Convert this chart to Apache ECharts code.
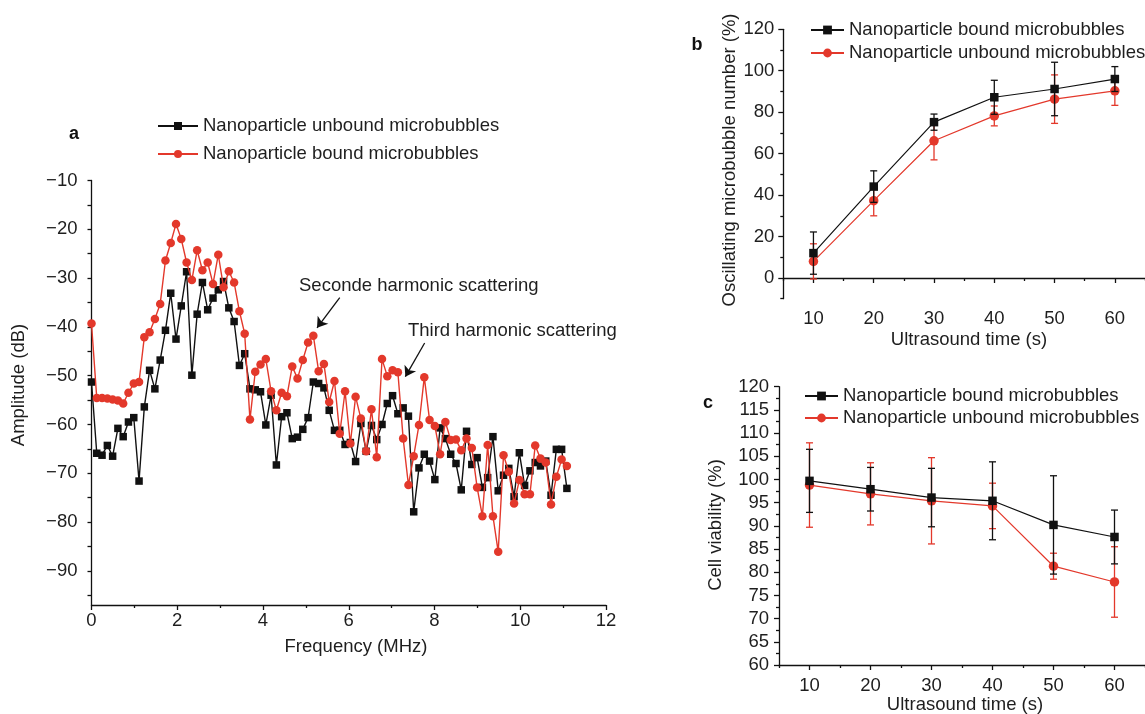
<!DOCTYPE html>
<html><head><meta charset="utf-8">
<script src="https://cdn.jsdelivr.net/npm/echarts@6/dist/echarts.min.js"></script>
<style>html,body{margin:0;padding:0;background:#fff}#chart{width:1145px;height:714px}</style>
</head><body><div id="chart"></div>
<script>
// ---------- Panel a data ----------
const freqMHz = [0, 0.123, 0.246, 0.370, 0.493, 0.616, 0.739, 0.862, 0.986, 1.109, 1.232, 1.355, 1.478, 1.602, 1.725, 1.848, 1.971, 2.094, 2.218, 2.341, 2.464, 2.587, 2.710, 2.834, 2.957, 3.080, 3.203, 3.326, 3.450, 3.573, 3.696, 3.819, 3.942, 4.066, 4.189, 4.312, 4.435, 4.558, 4.682, 4.805, 4.928, 5.051, 5.174, 5.298, 5.421, 5.544, 5.667, 5.790, 5.914, 6.037, 6.160, 6.283, 6.406, 6.530, 6.653, 6.776, 6.899, 7.022, 7.146, 7.269, 7.392, 7.515, 7.638, 7.762, 7.885, 8.008, 8.131, 8.254, 8.378, 8.501, 8.624, 8.747, 8.870, 8.994, 9.117, 9.240, 9.363, 9.486, 9.610, 9.733, 9.856, 9.979, 10.102, 10.226, 10.349, 10.472, 10.595, 10.718, 10.842, 10.965, 11.088];
const ampUnbound = [-51.3, -65.9, -66.3, -64.3, -66.5, -60.8, -62.5, -59.5, -58.6, -71.6, -56.4, -48.9, -52.7, -46.8, -40.7, -33.1, -42.5, -35.7, -28.7, -49.9, -37.4, -30.9, -36.5, -34.1, -32.4, -30.7, -36.1, -38.9, -47.9, -45.5, -52.7, -52.9, -53.3, -60.1, -54.0, -68.3, -58.4, -57.6, -62.9, -62.6, -61.0, -58.6, -51.3, -51.6, -52.5, -57.1, -61.2, -61.2, -64.1, -63.7, -67.6, -59.8, -65.5, -60.2, -63.1, -60.0, -55.7, -54.1, -57.8, -56.6, -58.3, -77.9, -68.9, -66.1, -67.5, -71.3, -60.7, -62.9, -66.1, -68.0, -73.4, -61.4, -68.2, -66.8, -72.9, -70.9, -62.5, -73.6, -70.4, -69.0, -74.8, -65.8, -72.5, -69.5, -67.8, -68.5, -67.5, -74.5, -65.1, -65.1, -73.1];
const ampBound = [-39.3, -54.6, -54.6, -54.7, -54.9, -55.1, -55.7, -53.5, -51.6, -51.3, -42.1, -41.1, -38.4, -35.3, -26.4, -22.8, -18.9, -22.0, -26.8, -30.4, -24.3, -28.4, -26.8, -31.2, -25.2, -31.9, -28.6, -30.9, -36.8, -41.4, -59.0, -49.2, -47.7, -46.6, -53.2, -57.1, -53.5, -54.2, -48.1, -50.6, -46.8, -43.2, -41.8, -49.1, -47.6, -55.4, -51.1, -61.9, -53.2, -63.9, -54.3, -58.8, -65.5, -56.9, -66.7, -46.6, -50.1, -48.9, -49.3, -62.9, -72.4, -66.5, -60.1, -50.3, -59.1, -60.3, -66.1, -59.5, -63.2, -63.1, -65.3, -62.9, -64.8, -72.9, -78.8, -64.2, -78.8, -86.1, -66.3, -69.7, -76.2, -71.4, -74.3, -74.3, -64.3, -67.0, -67.8, -76.4, -70.7, -67.2, -68.5];
const ampYLabels = [-90, -80, -70, -60, -50, -40, -30, -20, -10];
const ampYTicks = [-95, -90, -85, -80, -75, -70, -65, -60, -55, -50, -45, -40, -35, -30, -25, -20, -15, -10];
const arrowSecond = [[5.79, -34.0], [5.26, -40.2]];
const arrowThird = [[7.77, -43.3], [7.32, -50.2]];

// ---------- Panels b and c data ----------
const timeS = [10, 20, 30, 40, 50, 60];
const timeLabels = [10, 20, 30, 40, 50, 60];
const timeMinorTicks = [5, 15, 25, 35, 45, 55, 65];
const oscBound = [12.0, 44.1, 75.2, 87.2, 91.2, 96.0];
const oscBoundErr = [10.2, 7.6, 3.9, 8.2, 12.9, 6.0];
const oscUnbound = [8.0, 37.3, 66.2, 78.2, 86.3, 90.3];
const oscUnboundErr = [8.5, 7.3, 9.2, 4.8, 11.7, 7.0];
const oscYLabels = [0, 20, 40, 60, 80, 100, 120];
const oscYMinorTicks = [-10, 10, 30, 50, 70, 90, 110];
const viaBound = [99.7, 97.9, 96.1, 95.4, 90.2, 87.6];
const viaBoundErr = [6.8, 4.7, 6.3, 8.4, 10.6, 5.8];
const viaUnbound = [98.8, 96.9, 95.4, 94.3, 81.3, 77.9];
const viaUnboundErr = [9.1, 6.7, 9.3, 4.9, 2.8, 7.6];

const NAME_BOUND = 'Nanoparticle bound microbubbles';
const NAME_UNBOUND = 'Nanoparticle unbound microbubbles';
const NAME_BOUND_A = NAME_BOUND + ' ';
const NAME_UNBOUND_A = NAME_UNBOUND + ' ';

const RED = '#e3382b';
const BLACK = '#111111';
const FONT = 'Liberation Sans, Arial, sans-serif';
const FS = 18.5;
const TXT = '#1e1e1e';

const minus = v => String(v).replace('-', '\u2212');
const lineStyleAxis = { color: '#111', width: 1.3 };

function pair(arrX, arrY) { return arrX.map((x, i) => [x, arrY[i]]); }

function errSeries(xi, yi, xs, means, errs, color, capHalf, z) {
  return {
    type: 'custom', xAxisIndex: xi, yAxisIndex: yi, silent: true, z: z,
    data: xs.map((x, i) => [x, means[i] - errs[i], means[i] + errs[i]]),
    encode: { x: 0, y: [1, 2] },
    renderItem: function (params, api) {
      const x = api.value(0), lo = api.value(1), hi = api.value(2);
      const p1 = api.coord([x, lo]), p2 = api.coord([x, hi]);
      const st = { stroke: color, lineWidth: 1.3 };
      return { type: 'group', children: [
        { type: 'line', shape: { x1: p1[0], y1: p1[1], x2: p2[0], y2: p2[1] }, style: st },
        { type: 'line', shape: { x1: p1[0] - capHalf, y1: p1[1], x2: p1[0] + capHalf, y2: p1[1] }, style: st },
        { type: 'line', shape: { x1: p2[0] - capHalf, y1: p2[1], x2: p2[0] + capHalf, y2: p2[1] }, style: st }
      ]};
    }
  };
}

const labelStyle = (margin) => ({ fontFamily: FONT, fontSize: FS, color: TXT, margin: margin });

const chart = echarts.init(document.getElementById('chart'), null, { renderer: 'canvas' });

const option = {
  animation: false,
  backgroundColor: '#fff',
  grid: [
    { left: 91.5, top: 180.5, width: 514.5, height: 424.5 },
    { left: 783.3, top: 29.3, width: 366.5, height: 269.4 },
    { left: 779, top: 386.7, width: 374, height: 278.3 }
  ],
  xAxis: [
    { gridIndex: 0, type: 'value', min: 0, max: 12, interval: 2,
      axisLine: { lineStyle: lineStyleAxis }, axisTick: { length: 5, lineStyle: lineStyleAxis },
      minorTick: { show: true, splitNumber: 2, length: 3, lineStyle: lineStyleAxis },
      axisLabel: labelStyle(6), splitLine: { show: false } },
    { gridIndex: 1, type: 'value', min: 5, max: 65,
      axisLine: { lineStyle: lineStyleAxis },
      axisTick: { length: 5, lineStyle: lineStyleAxis, customValues: timeLabels },
      axisLabel: Object.assign(labelStyle(11), { customValues: timeLabels }), splitLine: { show: false } },
    { gridIndex: 1, type: 'value', min: 5, max: 65, position: 'bottom',
      axisLine: { show: false },
      axisTick: { length: 3, lineStyle: lineStyleAxis, customValues: timeMinorTicks },
      axisLabel: { show: false }, splitLine: { show: false } },
    { gridIndex: 2, type: 'value', min: 5, max: 65,
      axisLine: { lineStyle: lineStyleAxis },
      axisTick: { length: 5, lineStyle: lineStyleAxis, customValues: timeLabels },
      axisLabel: Object.assign(labelStyle(11), { customValues: timeLabels }), splitLine: { show: false } },
    { gridIndex: 2, type: 'value', min: 5, max: 65, position: 'bottom',
      axisLine: { show: false },
      axisTick: { length: 3, lineStyle: lineStyleAxis, customValues: timeMinorTicks },
      axisLabel: { show: false }, splitLine: { show: false } }
  ],
  yAxis: [
    { gridIndex: 0, type: 'value', min: -97, max: -10, position: 'left',
      axisLine: { show: true, lineStyle: lineStyleAxis },
      axisTick: { show: true, length: 4, lineStyle: lineStyleAxis, customValues: ampYTicks },
      axisLabel: Object.assign(labelStyle(14), { customValues: ampYLabels, formatter: minus }),
      splitLine: { show: false } },
    { gridIndex: 1, type: 'value', min: -10, max: 120, position: 'left',
      axisLine: { show: true, lineStyle: lineStyleAxis },
      axisTick: { show: true, length: 5, lineStyle: lineStyleAxis, customValues: oscYLabels },
      axisLabel: Object.assign(labelStyle(9), { customValues: oscYLabels }),
      splitLine: { show: false } },
    { gridIndex: 1, type: 'value', min: -10, max: 120, position: 'left',
      axisLine: { show: false },
      axisTick: { show: true, length: 3, lineStyle: lineStyleAxis, customValues: oscYMinorTicks },
      axisLabel: { show: false }, splitLine: { show: false } },
    { gridIndex: 2, type: 'value', min: 60, max: 120, interval: 5, position: 'left',
      axisLine: { show: true, lineStyle: lineStyleAxis },
      axisTick: { show: true, length: 5, lineStyle: lineStyleAxis },
      minorTick: { show: true, splitNumber: 2, length: 3, lineStyle: lineStyleAxis },
      axisLabel: labelStyle(10), splitLine: { show: false } }
  ],
  legend: [
    { left: 157, top: 115, orient: 'vertical', itemWidth: 40, itemHeight: 10, itemGap: 6, padding: 0,
      selectedMode: false, data: [NAME_UNBOUND_A, NAME_BOUND_A],
      textStyle: { fontFamily: FONT, fontSize: FS, color: TXT, lineHeight: 22 } },
    { left: 810, top: 19, orient: 'vertical', itemWidth: 33, itemHeight: 11, itemGap: 1, padding: 0,
      selectedMode: false, data: [NAME_BOUND, NAME_UNBOUND],
      textStyle: { fontFamily: FONT, fontSize: FS, color: TXT, lineHeight: 22 } },
    { left: 804, top: 385, orient: 'vertical', itemWidth: 33, itemHeight: 11, itemGap: 0, padding: 0,
      selectedMode: false, data: [NAME_BOUND, NAME_UNBOUND],
      textStyle: { fontFamily: FONT, fontSize: FS, color: TXT, lineHeight: 22 } }
  ],
  series: [
    // Panel a
    { name: NAME_UNBOUND_A, type: 'line', xAxisIndex: 0, yAxisIndex: 0, data: pair(freqMHz, ampUnbound),
      symbol: 'rect', symbolSize: 7.5, color: BLACK, lineStyle: { color: BLACK, width: 1.4 },
      itemStyle: { color: BLACK }, z: 2,
      markLine: { silent: true, symbol: ['none', 'arrow'], symbolSize: 10,
        lineStyle: { color: '#111', width: 1.3, type: 'solid' }, label: { show: false },
        emphasis: { disabled: true },
        data: [
          [{ coord: arrowSecond[0] }, { coord: arrowSecond[1] }],
          [{ coord: arrowThird[0] }, { coord: arrowThird[1] }]
        ] } },
    { name: NAME_BOUND_A, type: 'line', xAxisIndex: 0, yAxisIndex: 0, data: pair(freqMHz, ampBound),
      symbol: 'circle', symbolSize: 8.5, color: RED, lineStyle: { color: RED, width: 1.4 },
      itemStyle: { color: RED }, z: 3 },
    // Panel b
    errSeries(1, 1, timeS, oscUnbound, oscUnboundErr, RED, 3.5, 2),
    { name: NAME_UNBOUND, type: 'line', xAxisIndex: 1, yAxisIndex: 1, data: pair(timeS, oscUnbound),
      symbol: 'circle', symbolSize: 9.5, color: RED, lineStyle: { color: RED, width: 1.2 },
      itemStyle: { color: RED }, z: 3 },
    errSeries(1, 1, timeS, oscBound, oscBoundErr, BLACK, 3.5, 4),
    { name: NAME_BOUND, type: 'line', xAxisIndex: 1, yAxisIndex: 1, data: pair(timeS, oscBound),
      symbol: 'rect', symbolSize: 8.5, color: BLACK, lineStyle: { color: BLACK, width: 1.2 },
      itemStyle: { color: BLACK }, z: 5 },
    // Panel c
    errSeries(3, 3, timeS, viaUnbound, viaUnboundErr, RED, 3.5, 2),
    { name: NAME_UNBOUND, type: 'line', xAxisIndex: 3, yAxisIndex: 3, data: pair(timeS, viaUnbound),
      symbol: 'circle', symbolSize: 9.5, color: RED, lineStyle: { color: RED, width: 1.2 },
      itemStyle: { color: RED }, z: 3 },
    errSeries(3, 3, timeS, viaBound, viaBoundErr, BLACK, 3.5, 4),
    { name: NAME_BOUND, type: 'line', xAxisIndex: 3, yAxisIndex: 3, data: pair(timeS, viaBound),
      symbol: 'rect', symbolSize: 8.5, color: BLACK, lineStyle: { color: BLACK, width: 1.2 },
      itemStyle: { color: BLACK }, z: 5 }
  ],
  graphic: [
    { type: 'text', x: 74, y: 134, style: { text: 'a', font: 'bold 18px ' + FONT, fill: '#111', textAlign: 'center', textVerticalAlign: 'middle' } },
    { type: 'text', x: 697, y: 45, style: { text: 'b', font: 'bold 18px ' + FONT, fill: '#111', textAlign: 'center', textVerticalAlign: 'middle' } },
    { type: 'text', x: 708, y: 403, style: { text: 'c', font: 'bold 18px ' + FONT, fill: '#111', textAlign: 'center', textVerticalAlign: 'middle' } },
    { type: 'text', x: 19, y: 385, rotation: Math.PI / 2, style: { text: 'Amplitude (dB)', font: FS + 'px ' + FONT, fill: TXT, textAlign: 'center', textVerticalAlign: 'middle' } },
    { type: 'text', x: 356, y: 647, style: { text: 'Frequency (MHz)', font: FS + 'px ' + FONT, fill: TXT, textAlign: 'center', textVerticalAlign: 'middle' } },
    { type: 'text', x: 730, y: 160, rotation: Math.PI / 2, style: { text: 'Oscillating microbubble number (%)', font: FS + 'px ' + FONT, fill: TXT, textAlign: 'center', textVerticalAlign: 'middle' } },
    { type: 'text', x: 969, y: 340, style: { text: 'Ultrasound time (s)', font: FS + 'px ' + FONT, fill: TXT, textAlign: 'center', textVerticalAlign: 'middle' } },
    { type: 'text', x: 716, y: 525, rotation: Math.PI / 2, style: { text: 'Cell viability (%)', font: FS + 'px ' + FONT, fill: TXT, textAlign: 'center', textVerticalAlign: 'middle' } },
    { type: 'text', x: 965, y: 705, style: { text: 'Ultrasound time (s)', font: FS + 'px ' + FONT, fill: TXT, textAlign: 'center', textVerticalAlign: 'middle' } },
    { type: 'text', x: 299, y: 286, style: { text: 'Seconde harmonic scattering', font: FS + 'px ' + FONT, fill: TXT, textAlign: 'left', textVerticalAlign: 'middle' } },
    { type: 'text', x: 408, y: 331, style: { text: 'Third harmonic scattering', font: FS + 'px ' + FONT, fill: TXT, textAlign: 'left', textVerticalAlign: 'middle' } }
  ]
};
chart.setOption(option);
</script>
</body></html>
